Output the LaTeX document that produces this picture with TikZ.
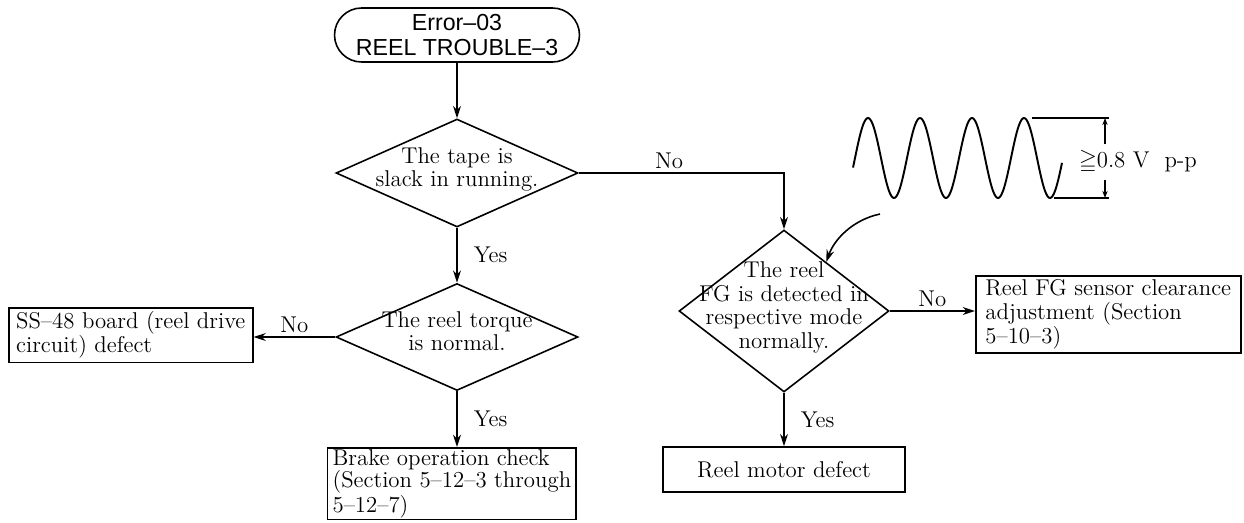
\documentclass[tikz,border=0pt]{standalone}
\usepackage{fontspec}
\usepackage{amssymb}
\newfontfamily\termfont{Liberation Sans}
\usetikzlibrary{shapes.geometric,arrows.meta,calc}
\newcommand{\dtext}[1]{\smash{\makebox[0pt]{\raisebox{-1.5pt}{\begin{tabular}{@{}c@{}}#1\end{tabular}}}}}
\begin{document}
\begin{tikzpicture}[x=0.02cm, y=-0.02cm, line width=0.9pt,
	every node/.style={font=\fontsize{13}{13.5}\selectfont},
	terminal/.style={rectangle, draw, rounded corners=0.54cm, minimum width=4.9cm,
		minimum height=1.08cm, align=center, font=\termfont\fontsize{13.2}{14.5}\selectfont},
	decision/.style={diamond, draw, inner sep=0pt},
	actbox/.style={rectangle, draw, align=left, inner xsep=0.1cm, inner ysep=0.08cm},
	flow/.style={-{Stealth[length=7pt, width=4.5pt]}},
	lbl/.style={inner sep=2pt}]
	\useasboundingbox (0,0) rectangle (1244,522);

	\node[terminal] (start) at (457,35) {Error–03\\REEL TROUBLE–3};
	\node[decision, minimum width=4.84cm, minimum height=2.16cm] (tapechk) at (457,173)
		{\dtext{The tape is\\slack in running.}};
	\node[decision, minimum width=4.84cm, minimum height=2.14cm] (torquechk) at (457,337)
		{\dtext{The reel torque\\is normal.}};
	\node[decision, minimum width=4.2cm, minimum height=3.24cm] (fgchk) at (784,311)
		{\dtext{The reel\\FG is detected in\\respective mode\\normally.}};

	\node[actbox, anchor=north west, minimum width=4.88cm, minimum height=1.06cm] (boarddef) at (8,307)
		{SS–48 board (reel drive\\circuit) defect};
	\node[actbox, anchor=north east, inner ysep=0.03cm, font=\fontsize{13}{12.8}\selectfont] (brakechk) at (577,447)
		{Brake operation check\\(Section 5–12–3 through\\5–12–7)};
	\node[actbox, align=center, minimum width=4.84cm, minimum height=0.9cm] (motordef) at (784,469.5)
		{Reel motor defect};
	\node[actbox, anchor=north west, minimum width=5.3cm, minimum height=1.54cm] (clearadj) at (975,275)
		{Reel FG sensor clearance\\adjustment (Section\\5–10–3)};

	\draw[flow] (start) -- (tapechk);
	\draw[flow] (tapechk.south) -- node[lbl, right=0.25cm] {Yes} (torquechk.north);
	\draw[flow] (tapechk.east) -| node[lbl, pos=0.22, above] {No} (fgchk.north);
	\draw[flow] (torquechk.west) -- node[lbl, above] {No} (torquechk.west -| boarddef.east);
	\draw[flow] (torquechk.south) -- node[lbl, right=0.25cm] {Yes} (torquechk.south |- brakechk.north);
	\draw[flow] (fgchk.east) -- node[lbl, above] {No} (fgchk.east -| clearadj.west);
	\draw[flow] (fgchk.south) -- node[lbl, right=0.25cm] {Yes} (motordef.north);

	% FG waveform
	\draw[line width=1.1pt] plot[domain=-15:194, samples=160, smooth] (\x+868, {158-40*cos(6.923*\x)});
	\coordinate (ptop) at (1105,118);
	\coordinate (pbot) at (1105,198);
	\draw (1032,118) -- (1109,118);
	\draw (1054,198) -- (1109,198);
	\node[anchor=west, inner sep=3pt] (vpp) at (1073,162) {$\geqq$0.8\ V\ \ p-p};
	\draw[-{Stealth[length=4pt, width=3pt]}] (vpp.north -| ptop) -- (ptop);
	\draw[-{Stealth[length=4pt, width=3pt]}] (vpp.south -| pbot) -- (pbot);

	\coordinate (ctail) at (880,214);
	\draw[flow] (ctail) .. controls (852,220) and (834,240) .. ($(fgchk.north)!0.4!(fgchk.east)$);
\end{tikzpicture}
\end{document}
